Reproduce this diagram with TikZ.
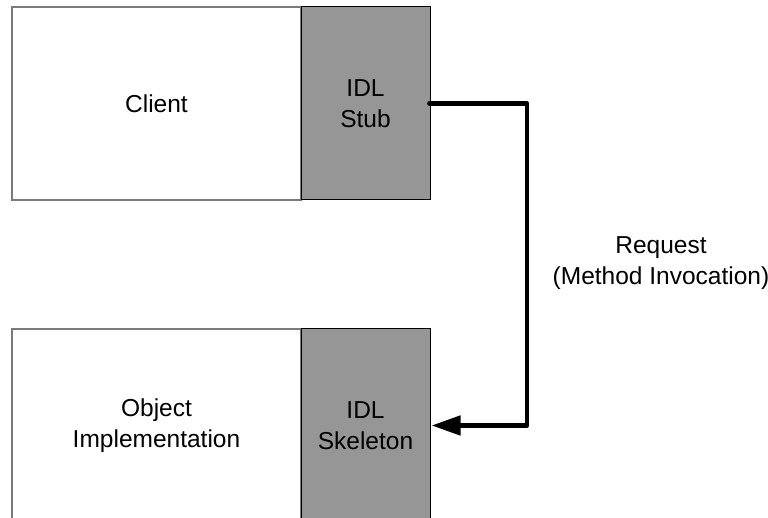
\documentclass[tikz,border=0pt]{standalone}
\usepackage{fontspec}
\setmainfont{Liberation Sans}
\usetikzlibrary{arrows.meta}
\definecolor{boxedge}{HTML}{7A7A7A}
\definecolor{idlfill}{HTML}{969696}
\tikzset{
  bodyfont/.style={font=\fontsize{24.5}{30.5}\selectfont},
  hostbox/.style={draw=boxedge, line width=1.6pt, fill=white, rectangle,
    minimum width=289pt, minimum height=193pt, inner sep=0pt, align=center,
    bodyfont},
  idlbox/.style={draw=black, line width=1pt, fill=idlfill, rectangle,
    minimum width=129pt, minimum height=193pt, inner sep=0pt, align=center,
    bodyfont},
  conn/.style={line width=4.8pt, line join=round, line cap=round,
    -{Triangle[length=29pt,width=19pt]}},
  lbl/.style={align=center, bodyfont}
}
\begin{document}
\begin{tikzpicture}[x=1pt,y=-1pt]
  \useasboundingbox (0,0) rectangle (768,518);
  % client side
  \node[hostbox] (client) at (156.5,103.5) {Client};
  \node[idlbox] (stub) at (365.5,103.5) {IDL\\Stub};
  % server side
  \node[hostbox] (impl) at (156.5,425.5) {Object\\Implementation};
  \node[idlbox] (skel) at (365.5,425.5) {IDL\\Skeleton};
  % request path
  \coordinate (bend) at (527,103.5);
  \draw[conn] ([xshift=-1pt]stub.east) -- (bend) |- ([xshift=1pt]skel.east);
  \node[lbl] (req) at (661,263) {Request\\(Method Invocation)};
\end{tikzpicture}
\end{document}
